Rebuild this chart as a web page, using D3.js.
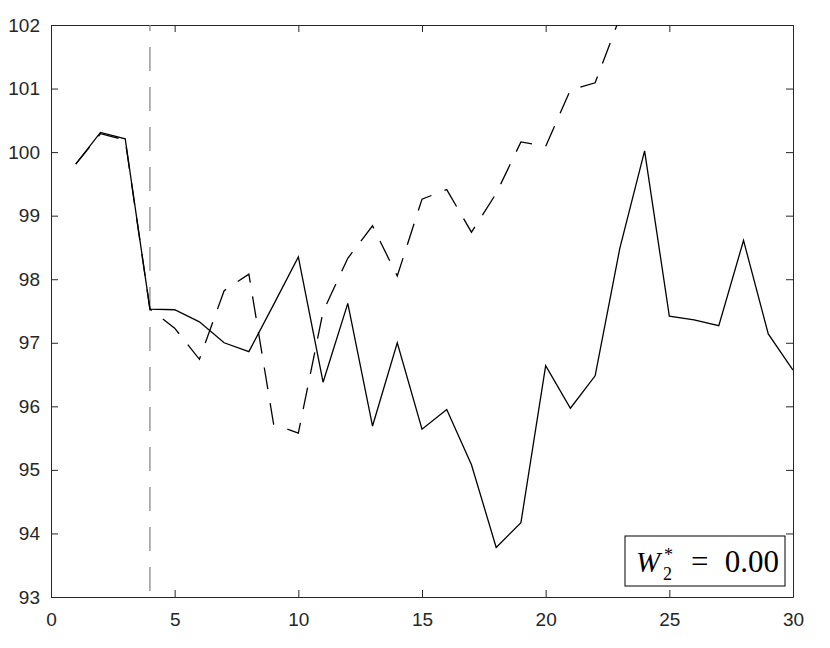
<!DOCTYPE html>
<html>
<head>
<meta charset="utf-8">
<script src="https://cdn.jsdelivr.net/npm/d3@7"></script>
<style>
  body { margin: 0; background: #fff; }
  svg { display: block; }
</style>
</head>
<body>
<div id="chart"></div>
<script>
// time steps
const steps = d3.range(1, 31);

// solid series (observed)
const observed = [99.81, 100.31, 100.21, 97.53, 97.52, 97.33, 97.00, 96.86, 97.60, 98.35,
  96.38, 97.62, 95.69, 97.00, 95.64, 95.95, 95.08, 93.78, 94.17, 96.64,
  95.97, 96.48, 98.49, 100.02, 97.42, 97.36, 97.27, 98.61, 97.14, 96.57];

// dashed series (prediction), runs off the top after step 23
const predSteps = d3.range(1, 24);
const predicted = [99.81, 100.29, 100.19, 97.53, 97.23, 96.74, 97.82, 98.08, 95.72, 95.58,
  97.49, 98.33, 98.84, 98.05, 99.26, 99.41, 98.74, 99.35, 100.16, 100.09,
  100.98, 101.09, 102.12];

const xTicks = [0, 5, 10, 15, 20, 25, 30];
const yTicks = [93, 94, 95, 96, 97, 98, 99, 100, 101, 102];
const breakStep = 4;

const width = 830, height = 648;
const margin = { top: 25, right: 37, bottom: 51, left: 51 };
const innerW = width - margin.left - margin.right;
const innerH = height - margin.top - margin.bottom;
const axisColor = '#262626';

const svg = d3.select('#chart').append('svg')
  .attr('width', width)
  .attr('height', height);

const g = svg.append('g')
  .attr('transform', `translate(${margin.left},${margin.top})`);

const x = d3.scaleLinear().domain([0, 30]).range([0, innerW]);
const y = d3.scaleLinear().domain([93, 102]).range([innerH, 0]);

g.append('clipPath').attr('id', 'plot-clip')
  .append('rect').attr('width', innerW).attr('height', innerH);

// axes, ticks pointing inward, box on all four sides
const fontFamily = 'Liberation Sans, Arial, Helvetica, sans-serif';
function styleAxis(sel) {
  sel.selectAll('path').attr('stroke', axisColor).attr('stroke-width', 1);
  sel.selectAll('line').attr('stroke', axisColor).attr('stroke-width', 1);
  sel.selectAll('text').attr('fill', axisColor)
    .style('font-family', fontFamily).style('font-size', '19px');
}

g.append('g')
  .attr('transform', `translate(0,${innerH})`)
  .call(d3.axisBottom(x).tickValues(xTicks).tickSize(-7).tickSizeOuter(0).tickPadding(16))
  .call(styleAxis);

g.append('g')
  .call(d3.axisTop(x).tickValues(xTicks).tickSize(-7).tickSizeOuter(0).tickFormat(''))
  .call(styleAxis);

g.append('g')
  .call(d3.axisLeft(y).tickValues(yTicks).tickSize(-7).tickSizeOuter(0).tickPadding(11))
  .call(styleAxis);

g.append('g')
  .attr('transform', `translate(${innerW},0)`)
  .call(d3.axisRight(y).tickValues(yTicks).tickSize(-7).tickSizeOuter(0).tickFormat(''))
  .call(styleAxis);

// vertical dashed marker
g.append('line')
  .attr('x1', x(breakStep)).attr('x2', x(breakStep))
  .attr('y1', y(102)).attr('y2', y(93))
  .attr('stroke', '#808080')
  .attr('stroke-width', 1.2)
  .attr('stroke-dasharray', '24,16')
  .attr('stroke-dashoffset', 18);

const line = d3.line()
  .x(d => x(d[0]))
  .y(d => y(d[1]));

const plot = g.append('g').attr('clip-path', 'url(#plot-clip)');

plot.append('path')
  .datum(d3.zip(predSteps, predicted))
  .attr('fill', 'none')
  .attr('stroke', '#000')
  .attr('stroke-width', 1.3)
  .attr('stroke-dasharray', '22,14')
  .attr('d', line);

plot.append('path')
  .datum(d3.zip(steps, observed))
  .attr('fill', 'none')
  .attr('stroke', '#000')
  .attr('stroke-width', 1.3)
  .attr('d', line);

// annotation box (positions in page pixels)
const serif = 'Liberation Serif, Times New Roman, serif';
const box = svg.append('g');
box.append('rect')
  .attr('x', 625).attr('y', 536)
  .attr('width', 160).attr('height', 50)
  .attr('fill', '#fff')
  .attr('stroke', '#000')
  .attr('stroke-width', 1);

box.append('text')
  .attr('x', 636).attr('y', 572)
  .style('font-family', serif).style('font-size', '29px').style('font-style', 'italic')
  .text('W');
box.append('text')
  .attr('x', 663).attr('y', 580)
  .style('font-family', serif).style('font-size', '18px')
  .text('2');
box.append('text')
  .attr('x', 664).attr('y', 561)
  .style('font-family', serif).style('font-size', '18px')
  .text('*');
box.append('text')
  .attr('x', 691).attr('y', 572)
  .style('font-family', serif).style('font-size', '31px')
  .text('=');
box.append('text')
  .attr('x', 779).attr('y', 572)
  .attr('text-anchor', 'end')
  .style('font-family', serif).style('font-size', '31px')
  .text('0.00');
</script>
</body>
</html>
